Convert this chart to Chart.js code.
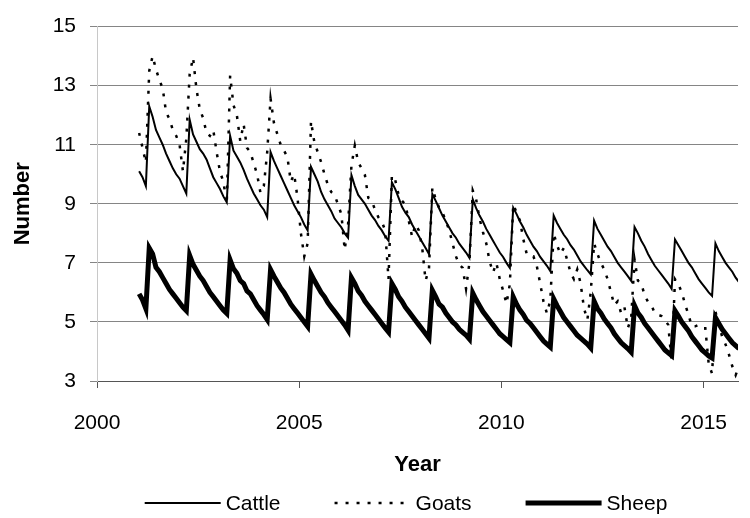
<!DOCTYPE html>
<html>
<head>
<meta charset="utf-8">
<script src="https://cdn.jsdelivr.net/npm/chart.js@4.4.1/dist/chart.umd.min.js"></script>
<style>
  html, body { margin: 0; padding: 0; background: #fff; }
</style>
</head>
<body>
<canvas id="herdChart" width="750" height="518"></canvas>
<script>
// monthly values, Jan..Dec, one row per year starting 2001
const firstYear = 2001;

const cattle = [
  10.1, 9.9, 9.6, 12.3, 11.95, 11.5, 11.25, 11.0, 10.7, 10.45, 10.2, 10.0,
  9.85, 9.6, 9.35, 11.85, 11.35, 11.1, 10.85, 10.7, 10.5, 10.2, 9.9, 9.7,
  9.5, 9.25, 9.05, 11.3, 10.8, 10.6, 10.4, 10.15, 9.85, 9.6, 9.35, 9.15,
  8.95, 8.8, 8.55, 10.75, 10.45, 10.2, 9.95, 9.7, 9.45, 9.2, 8.95, 8.75,
  8.55, 8.3, 8.1, 10.25, 10.0, 9.75, 9.4, 9.15, 8.95, 8.75, 8.5, 8.35,
  8.2, 8.0, 7.85, 9.97, 9.6, 9.3, 9.15, 9.0, 8.8, 8.6, 8.45, 8.25,
  8.1, 7.9, 7.75, 9.73, 9.5, 9.2, 8.9, 8.7, 8.55, 8.3, 8.1, 7.9,
  7.7, 7.5, 7.3, 9.33, 9.1, 8.85, 8.6, 8.4, 8.2, 8.0, 7.85, 7.65,
  7.5, 7.35, 7.17, 9.15, 8.85, 8.6, 8.4, 8.15, 7.95, 7.75, 7.55, 7.35,
  7.2, 7.0, 6.83, 8.87, 8.65, 8.4, 8.2, 7.95, 7.75, 7.55, 7.4, 7.2,
  7.05, 6.9, 6.72, 8.6, 8.35, 8.15, 7.95, 7.8, 7.6, 7.45, 7.25, 7.05,
  6.9, 6.75, 6.61, 8.43, 8.15, 7.95, 7.75, 7.55, 7.4, 7.2, 7.0, 6.85,
  6.7, 6.55, 6.39, 8.21, 8.0, 7.75, 7.55, 7.3, 7.1, 6.9, 6.75, 6.6,
  6.45, 6.3, 6.12, 7.79, 7.6, 7.4, 7.2, 7.0, 6.85, 6.65, 6.45, 6.3,
  6.15, 6.0, 5.88, 7.66, 7.4, 7.2, 7.0, 6.85, 6.7, 6.5, 6.35, 6.25
];

const goats = [
  11.4, 10.9, 10.4, 13.5, 14.0, 13.55, 13.2, 12.9, 12.1, 11.87, 11.5, 11.3,
  11.0, 10.1, 11.2, 13.4, 13.95, 12.9, 12.2, 11.9, 11.4, 11.3, 11.5, 10.75,
  10.08, 9.75, 9.0, 13.34, 12.34, 12.0, 11.13, 11.7, 10.9, 10.75, 10.37, 10.0,
  9.37, 9.6, 10.75, 12.56, 11.74, 11.36, 11.0, 10.8, 10.58, 9.75, 10.0, 9.2,
  8.0, 7.22, 7.66, 11.8, 11.08, 10.75, 10.41, 10.0, 9.64, 9.4, 9.3, 8.98,
  8.65, 7.44, 8.3, 10.3, 10.97, 10.41, 10.2, 9.97, 9.2, 9.1, 8.8, 8.54,
  8.4, 8.1, 6.45, 9.97, 9.8, 9.3, 9.1, 8.98, 8.43, 7.88, 8.3, 8.1,
  7.5, 6.4, 6.8, 9.55, 9.15, 8.87, 8.7, 8.43, 8.1, 7.66, 7.22, 6.94,
  6.83, 6.12, 7.0, 9.45, 9.15, 8.5, 8.05, 7.66, 7.05, 6.67, 7.0, 6.45,
  6.06, 5.62, 6.28, 8.98, 8.7, 8.43, 7.8, 7.3, 7.22, 7.22, 6.89, 6.3,
  5.68, 5.29, 5.73, 8.0, 7.6, 7.3, 7.5, 7.1, 6.67, 6.45, 6.78, 6.3,
  5.46, 5.07, 6.0, 7.66, 7.3, 7.0, 6.78, 6.45, 6.0, 5.57, 5.7, 5.3,
  5.5, 4.79, 5.13, 7.11, 6.4, 6.3, 5.9, 5.68, 5.57, 5.3, 5.24, 5.2,
  5.07, 4.9, 3.64, 6.45, 6.28, 6.0, 5.6, 5.24, 4.85, 4.85, 4.9, 4.79,
  4.79, 3.58, 3.25, 5.35, 4.9, 4.5, 4.24, 3.9, 3.5, 3.2, 3.5, 3.4
];

const sheep = [
  5.95, 5.75, 5.45, 7.5, 7.3, 6.85, 6.7, 6.5, 6.3, 6.1, 5.95, 5.8,
  5.65, 5.5, 5.38, 7.25, 6.95, 6.75, 6.55, 6.4, 6.2, 6.0, 5.85, 5.7,
  5.55, 5.4, 5.29, 7.1, 6.8, 6.65, 6.4, 6.3, 6.05, 5.95, 5.75, 5.55,
  5.4, 5.25, 5.08, 6.77, 6.55, 6.35, 6.15, 6.0, 5.8, 5.6, 5.45, 5.3,
  5.15, 5.0, 4.85, 6.62, 6.4, 6.2, 6.0, 5.85, 5.65, 5.5, 5.35, 5.2,
  5.05, 4.9, 4.72, 6.5, 6.3, 6.05, 5.9, 5.7, 5.55, 5.4, 5.25, 5.1,
  4.95, 4.8, 4.66, 6.3, 6.1, 5.85, 5.7, 5.5, 5.35, 5.2, 5.05, 4.9,
  4.75, 4.6, 4.45, 6.07, 5.85, 5.6, 5.5, 5.3, 5.15, 5.0, 4.9, 4.75,
  4.65, 4.55, 4.42, 5.98, 5.75, 5.55, 5.35, 5.2, 5.05, 4.9, 4.75, 4.6,
  4.5, 4.4, 4.3, 5.85, 5.6, 5.4, 5.25, 5.05, 4.95, 4.8, 4.65, 4.5,
  4.35, 4.25, 4.15, 5.78, 5.55, 5.35, 5.15, 5.0, 4.85, 4.7, 4.55, 4.45,
  4.35, 4.25, 4.12, 5.7, 5.45, 5.3, 5.1, 4.95, 4.8, 4.6, 4.45, 4.3,
  4.2, 4.1, 3.98, 5.55, 5.3, 5.15, 4.95, 4.8, 4.65, 4.5, 4.35, 4.2,
  4.05, 3.95, 3.86, 5.38, 5.2, 5.0, 4.85, 4.7, 4.5, 4.35, 4.2, 4.05,
  3.95, 3.85, 3.78, 5.15, 4.95, 4.75, 4.6, 4.45, 4.3, 4.2, 4.1, 4.0
];

const xTicks = [2000, 2005, 2010, 2015];
const yTicks = [3, 5, 7, 9, 11, 13, 15];

// month i sits in the middle of its month on a decimal-year axis
function toPoints(values) {
  return values.map((v, i) => ({ x: firstYear + (i + 0.5) / 12, y: v }));
}

const fontFamily = '"Liberation Sans", Arial, sans-serif';
Chart.defaults.font.family = fontFamily;
Chart.defaults.color = '#000';

// legend drawn by hand so the item spacing can match the original
const lineLegend = {
  id: 'lineLegend',
  afterDraw(chart) {
    const ctx = chart.ctx;
    const sets = chart.data.datasets;
    const lineLen = 76, gap = 5, spacing = 54, cy = 503, cx = 406;
    ctx.save();
    ctx.font = '21px ' + fontFamily;
    const widths = sets.map(d => lineLen + gap + ctx.measureText(d.label).width);
    const total = widths.reduce((a, b) => a + b, 0) + spacing * (sets.length - 1);
    let x = cx - total / 2;
    sets.forEach((d, i) => {
      ctx.beginPath();
      ctx.setLineDash(d.borderDash || []);
      ctx.lineWidth = d.borderWidth;
      ctx.strokeStyle = d.borderColor;
      ctx.moveTo(x, cy);
      ctx.lineTo(x + lineLen, cy);
      ctx.stroke();
      ctx.setLineDash([]);
      ctx.fillStyle = '#000';
      ctx.textAlign = 'left';
      ctx.textBaseline = 'middle';
      ctx.fillText(d.label, x + lineLen + gap, cy + 1);
      x += widths[i] + spacing;
    });
    ctx.restore();
  }
};

new Chart(document.getElementById('herdChart'), {
  type: 'line',
  data: {
    datasets: [
      { label: 'Cattle', data: toPoints(cattle), borderColor: '#000', borderWidth: 2 },
      { label: 'Goats', data: toPoints(goats), borderColor: '#000', borderWidth: 2.5, borderDash: [3, 8] },
      { label: 'Sheep', data: toPoints(sheep), borderColor: '#000', borderWidth: 5 }
    ]
  },
  options: {
    responsive: false,
    animation: false,
    layout: { padding: { top: 18, right: 0, bottom: 37, left: 0 } },
    elements: { point: { radius: 0 }, line: { tension: 0, fill: false } },
    plugins: { legend: { display: false }, tooltip: { enabled: false } },
    scales: {
      x: {
        type: 'linear',
        min: 2000,
        max: 2015.85,
        afterBuildTicks: s => { s.ticks = xTicks.map(v => ({ value: v })); },
        afterFit: s => { s.height = 100; },
        ticks: { font: { size: 21 }, padding: 23, maxRotation: 0, autoSkip: false, callback: v => String(v) },
        grid: { drawOnChartArea: false, drawTicks: true, tickLength: 7, color: '#555' },
        border: { color: '#555', width: 1 },
        title: { display: true, text: 'Year', font: { size: 22, weight: 'bold' }, padding: { top: 4, bottom: 3 } }
      },
      y: {
        min: 3,
        max: 15,
        afterBuildTicks: s => { s.ticks = yTicks.map(v => ({ value: v })); },
        afterFit: s => { s.width = 97; },
        ticks: { font: { size: 21 }, padding: 14 },
        grid: { color: '#858585', lineWidth: 1, tickLength: 7 },
        border: { color: '#c8c8c8', width: 1 },
        title: { display: true, text: 'Number', font: { size: 22, weight: 'bold' }, padding: { top: 10, bottom: 0 } }
      }
    }
  },
  plugins: [lineLegend]
});
</script>
</body>
</html>
